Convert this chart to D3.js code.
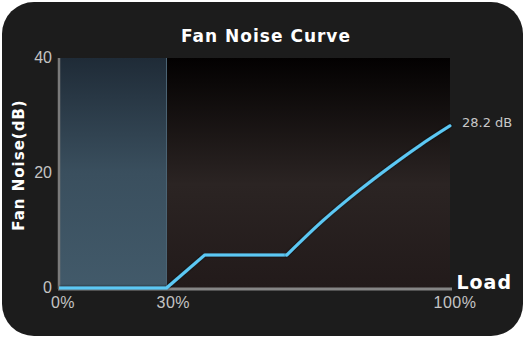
<!DOCTYPE html>
<html>
<head>
<meta charset="utf-8">
<script src="https://cdn.jsdelivr.net/npm/d3@7"></script>
<style>
  body { margin: 0; background: #fff; }
</style>
</head>
<body>
<div id="chart"></div>
<script>
var width = 525;
var height = 338;

// load (%) vs fan noise (dB)
var loads  = [0, 27.5, 37.3, 58.3, 67.5, 77, 84.7, 92.3, 100];
var noise  = [0, 0,    5.75, 5.75, 11.7, 17.1, 21.1, 24.8, 28.2];
var xTicks = [0, 30, 100];
var yTicks = [0, 20, 40];
var passiveEnd = 27.5;   // fanless zone

var margin = {top: 58, right: 75, bottom: 50, left: 59};

var svg = d3.select("#chart")
    .append("svg")
    .attr("width", width)
    .attr("height", height);

var defs = svg.append("defs");

var bgGrad = defs.append("linearGradient")
    .attr("id", "plotbg").attr("x1", 0).attr("y1", 0).attr("x2", 0).attr("y2", 1);
bgGrad.append("stop").attr("offset", "0%").attr("stop-color", "#030101");
bgGrad.append("stop").attr("offset", "55%").attr("stop-color", "#2b2423");
bgGrad.append("stop").attr("offset", "100%").attr("stop-color", "#221a1a");

var zoneGrad = defs.append("linearGradient")
    .attr("id", "zone").attr("x1", 0).attr("y1", 0).attr("x2", 0).attr("y2", 1);
zoneGrad.append("stop").attr("offset", "0%").attr("stop-color", "#1f2b37");
zoneGrad.append("stop").attr("offset", "50%").attr("stop-color", "#3a4f5e");
zoneGrad.append("stop").attr("offset", "100%").attr("stop-color", "#425a6a");

var shadow = defs.append("filter").attr("id", "shadow")
    .attr("x", "-5%").attr("y", "-5%").attr("width", "110%").attr("height", "110%");
shadow.append("feDropShadow").attr("dx", 0).attr("dy", 0)
    .attr("stdDeviation", 1.2).attr("flood-color", "#000").attr("flood-opacity", 0.9);

// card
svg.append("rect")
    .attr("x", 2).attr("y", 2)
    .attr("width", width - 4).attr("height", height - 4)
    .attr("rx", 32).attr("ry", 32)
    .attr("fill", "#1c1c1c");

var x = d3.scaleLinear().domain([0, 100]).range([margin.left, 450]);
var y = d3.scaleLinear().domain([0, 40]).range([288, margin.top]);

// plot background
svg.append("rect")
    .attr("x", x(0)).attr("y", y(40))
    .attr("width", x(100) - x(0)).attr("height", y(0) - y(40))
    .attr("fill", "url(#plotbg)");

// fanless zone
svg.append("rect")
    .attr("x", x(0)).attr("y", y(40))
    .attr("width", x(passiveEnd) - x(0)).attr("height", y(0) - y(40))
    .attr("fill", "url(#zone)");
svg.append("line")
    .attr("x1", x(passiveEnd)).attr("x2", x(passiveEnd))
    .attr("y1", y(40)).attr("y2", y(0))
    .attr("stroke", "#4d6575").attr("stroke-width", 1);

// axes lines
svg.append("line")
    .attr("x1", x(0)).attr("x2", x(0))
    .attr("y1", y(40)).attr("y2", y(0) + 1)
    .attr("stroke", "#7a7a7a").attr("stroke-width", 2.5);
svg.append("line")
    .attr("x1", x(0) - 1).attr("x2", x(100) + 2)
    .attr("y1", y(0) + 1).attr("y2", y(0) + 1)
    .attr("stroke", "#858585").attr("stroke-width", 3);

// tick labels
svg.selectAll(".ytick")
    .data(yTicks)
  .enter().append("text")
    .attr("class", "ytick")
    .attr("x", x(0) - 7)
    .attr("y", function(d) { return y(d) + 5; })
    .attr("text-anchor", "end")
    .attr("font-family", "Liberation Sans, sans-serif")
    .attr("font-size", 16)
    .attr("fill", "#c4c4c4")
    .text(function(d) { return d; });

svg.selectAll(".xtick")
    .data(xTicks)
  .enter().append("text")
    .attr("class", "xtick")
    .attr("x", function(d) { return x(d) + (d == 0 ? 4 : d == 100 ? 5 : -3); })
    .attr("y", 308)
    .attr("text-anchor", "middle")
    .attr("font-family", "Liberation Sans, sans-serif")
    .attr("font-size", 16)
    .attr("letter-spacing", 0.5)
    .attr("fill", "#c4c4c4")
    .text(function(d) { return d + "%"; });

// curve
var pts = loads.map(function(l, i) { return [l, noise[i]]; });

var straight = d3.line()
    .x(function(d) { return x(d[0]); })
    .y(function(d) { return y(d[1]); });
var smooth = d3.line()
    .x(function(d) { return x(d[0]); })
    .y(function(d) { return y(d[1]); })
    .curve(d3.curveMonotoneX);

// straight segments for the first part, smooth for the climb
svg.append("path")
    .datum(pts.slice(0, 4))
    .attr("d", straight)
    .attr("fill", "none")
    .attr("stroke", "#5cc8f4")
    .attr("stroke-width", 3)
    .attr("stroke-linejoin", "round")
    .attr("filter", "url(#shadow)");
svg.append("path")
    .datum(pts.slice(3))
    .attr("d", smooth)
    .attr("fill", "none")
    .attr("stroke", "#5cc8f4")
    .attr("stroke-width", 3)
    .attr("stroke-linecap", "round")
    .attr("filter", "url(#shadow)");

// end value label
svg.append("text")
    .attr("x", 462)
    .attr("y", y(noise[noise.length - 1]) + 1)
    .attr("font-family", "DejaVu Sans, sans-serif")
    .attr("font-size", 13)
    .attr("fill", "#c8c8c8")
    .text(noise[noise.length - 1] + " dB");

// titles
svg.append("text")
    .attr("x", 266).attr("y", 42)
    .attr("text-anchor", "middle")
    .attr("font-family", "DejaVu Sans, sans-serif")
    .attr("font-weight", "bold")
    .attr("font-size", 17)
    .attr("letter-spacing", 1)
    .attr("fill", "#fff")
    .text("Fan Noise Curve");

svg.append("text")
    .attr("transform", "translate(24,165) rotate(-90)")
    .attr("text-anchor", "middle")
    .attr("font-family", "DejaVu Sans, sans-serif")
    .attr("font-weight", "bold")
    .attr("font-size", 15)
    .attr("letter-spacing", 1)
    .attr("fill", "#fff")
    .text("Fan Noise(dB)");

svg.append("text")
    .attr("x", 512).attr("y", 289)
    .attr("text-anchor", "end")
    .attr("font-family", "DejaVu Sans, sans-serif")
    .attr("font-weight", "bold")
    .attr("font-size", 19)
    .attr("letter-spacing", 1)
    .attr("fill", "#fff")
    .text("Load");
</script>
</body>
</html>
